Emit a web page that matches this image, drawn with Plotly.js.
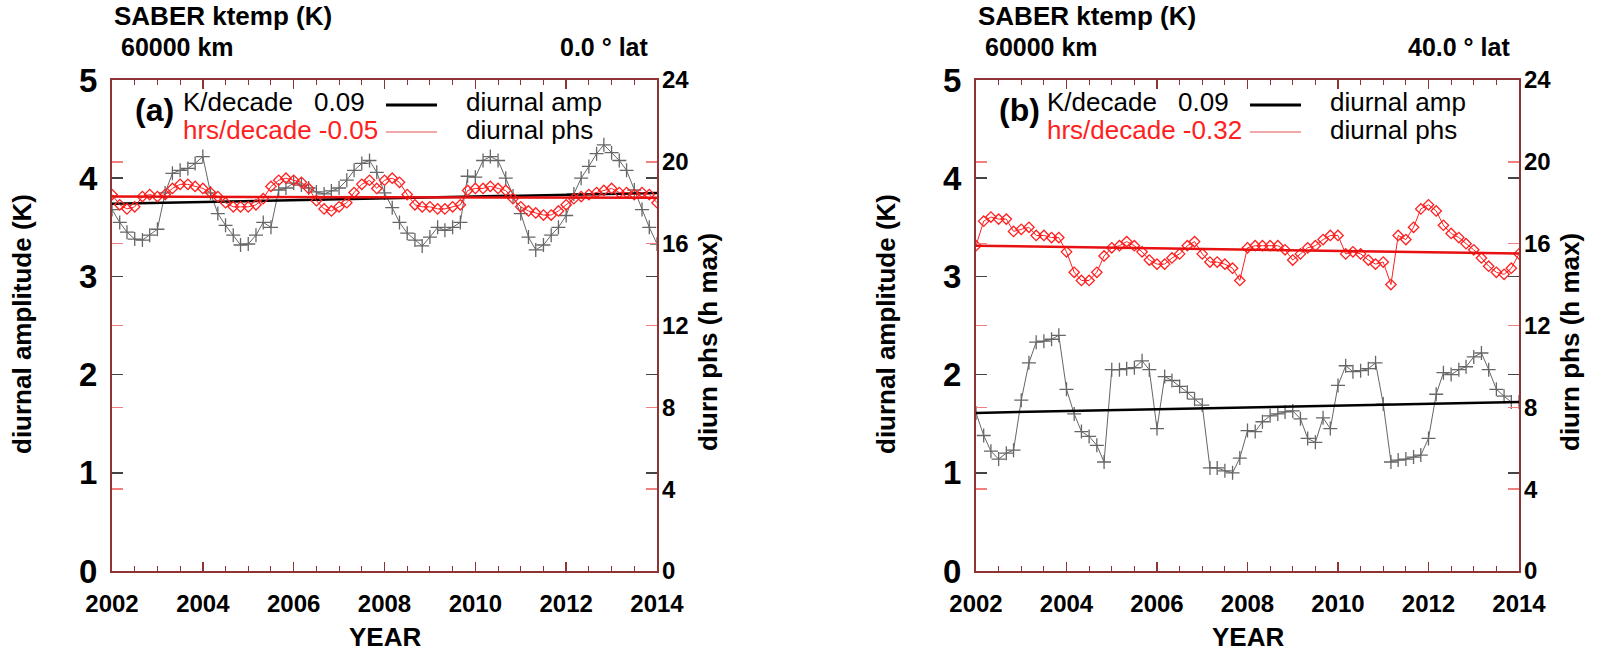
<!DOCTYPE html>
<html>
<head>
<meta charset="utf-8">
<script src="https://cdn.plot.ly/plotly-3.0.1.min.js"></script>
<style>
  body { margin: 0; background: #fff; }
  #chart { width: 1604px; height: 659px; }
</style>
</head>
<body>
<div id="chart"></div>
<script>
// time axis, roughly every two months
let years = [
  2002.00, 2002.17, 2002.33, 2002.50, 2002.67, 2002.83,
  2003.00, 2003.17, 2003.33, 2003.50, 2003.67, 2003.83,
  2004.00, 2004.17, 2004.33, 2004.50, 2004.67, 2004.83,
  2005.00, 2005.17, 2005.33, 2005.50, 2005.67, 2005.83,
  2006.00, 2006.17, 2006.33, 2006.50, 2006.67, 2006.83,
  2007.00, 2007.17, 2007.33, 2007.50, 2007.67, 2007.83,
  2008.00, 2008.17, 2008.33, 2008.50, 2008.67, 2008.83,
  2009.00, 2009.17, 2009.33, 2009.50, 2009.67, 2009.83,
  2010.00, 2010.17, 2010.33, 2010.50, 2010.67, 2010.83,
  2011.00, 2011.17, 2011.33, 2011.50, 2011.67, 2011.83,
  2012.00, 2012.17, 2012.33, 2012.50, 2012.67, 2012.83,
  2013.00, 2013.17, 2013.33, 2013.50, 2013.67, 2013.83,
  2014.00
];

// (a) 0.0 lat
let ampA = [
  3.68, 3.55, 3.45, 3.38, 3.37, 3.42,
  3.48, 3.85, 4.05, 4.08, 4.10, 4.15,
  4.22, 3.85, 3.64, 3.52, 3.42, 3.32,
  3.33, 3.42, 3.55, 3.50, 3.88, 3.90,
  3.95, 3.93, 3.90, 3.86, 3.84, 3.87,
  3.90, 3.98, 4.08, 4.15, 4.18, 4.06,
  3.85, 3.70, 3.55, 3.44, 3.37, 3.31,
  3.40, 3.50, 3.47, 3.50, 3.55, 4.02,
  4.01, 4.18, 4.22, 4.18, 4.00, 3.82,
  3.64, 3.40, 3.27, 3.32, 3.42, 3.50,
  3.62, 3.84, 4.00, 4.12, 4.25, 4.34,
  4.26, 4.18, 4.08, 3.88, 3.68, 3.50,
  3.33
];
let phsA = [
  18.4, 17.9, 17.7, 17.8, 18.3, 18.4,
  18.3, 18.4, 18.7, 18.9, 18.9, 18.8,
  18.7, 18.5, 18.3, 18.0, 17.8, 17.8,
  17.8, 17.9, 18.2, 18.8, 19.1, 19.2,
  19.1, 19.0, 18.7, 18.1, 17.7, 17.6,
  17.8, 18.0, 18.5, 18.9, 19.1, 18.7,
  19.1, 19.2, 19.0, 18.4, 17.9, 17.8,
  17.8, 17.7, 17.7, 17.8, 17.9, 18.6,
  18.7, 18.7, 18.8, 18.7, 18.6, 18.2,
  17.8, 17.6, 17.5, 17.4, 17.4, 17.6,
  17.9, 18.2, 18.3, 18.4, 18.5, 18.6,
  18.7, 18.5, 18.5, 18.4, 18.5, 18.4,
  18.0
];

// (b) 40.0 lat
let ampB = [
  1.61, 1.38, 1.22, 1.14, 1.20, 1.23,
  1.74, 2.12, 2.33, 2.34, 2.36, 2.40,
  1.85, 1.60, 1.42, 1.37, 1.28, 1.11,
  2.05, 2.05, 2.06, 2.07, 2.14, 2.05,
  1.45, 1.98, 1.94, 1.88, 1.82, 1.75,
  1.69, 1.05, 1.05, 1.02, 1.00, 1.15,
  1.43, 1.42, 1.52, 1.58, 1.60, 1.62,
  1.63, 1.55, 1.35, 1.31, 1.56, 1.45,
  1.89, 2.09, 2.03, 2.04, 2.06, 2.12,
  1.70, 1.11, 1.13, 1.14, 1.16, 1.18,
  1.35, 1.80, 2.02, 2.00, 2.05, 2.08,
  2.18, 2.22, 2.05, 1.85, 1.78, 1.72,
  1.72
];
let phsB = [
  15.9, 17.1, 17.3, 17.2, 17.2, 16.6,
  16.7, 16.8, 16.4, 16.4, 16.3, 16.3,
  15.6, 14.6, 14.2, 14.2, 14.6, 15.4,
  15.8, 15.9, 16.1, 15.9, 15.6, 15.2,
  15.0, 15.0, 15.3, 15.5, 15.9, 16.1,
  15.5, 15.1, 15.1, 15.0, 14.8, 14.2,
  15.8, 15.9, 15.9, 15.9, 15.9, 15.7,
  15.2, 15.5, 15.8, 15.9, 16.2, 16.4,
  16.4, 15.5, 15.6, 15.5, 15.2, 15.0,
  15.1, 14.0, 16.4, 16.2, 16.8, 17.7,
  17.9, 17.6, 16.9, 16.5, 16.3, 16.0,
  15.7, 15.3, 14.9, 14.6, 14.5, 14.8,
  15.5
];

// linear trend end points
let trendYears = [2002, 2014];
let ampTrendA = [3.74, 3.85];
let phsTrendA = [18.30, 18.24];
let ampTrendB = [1.61, 1.72];
let phsTrendB = [15.90, 15.52];

let xTicks = [2002, 2004, 2006, 2008, 2010, 2012, 2014];
let ampTicks = [0, 1, 2, 3, 4, 5];
let phsTicks = [0, 4, 8, 12, 16, 20, 24];

// page geometry (pixels)
const W = 1604, H = 659, ML = 112, MR = 85, MT = 80, MB = 88;
const PW = W - ML - MR, PH = H - MT - MB;
const px = x => (x - ML) / PW;
const py = y => (H - MB - y) / PH;

const FONT = "Liberation Sans, Arial, Helvetica, sans-serif";
const frameColor = "#8e3434";
const red = "#ff2020";

let panels = [
  { xa: "x", ya: "y", yh: "y2", left: 112, right: 657, tag: "(a)", lat: "0.0 ° lat",
    kRate: "0.09", hRate: "-0.05", amp: ampA, phs: phsA, ampTrend: ampTrendA, phsTrend: phsTrendA },
  { xa: "x2", ya: "y3", yh: "y4", left: 976, right: 1519, tag: "(b)", lat: "40.0 ° lat",
    kRate: "0.09", hRate: "-0.32", amp: ampB, phs: phsB, ampTrend: ampTrendB, phsTrend: phsTrendB }
];

let traces = [];
let annotations = [];
let shapes = [];

function txt(text, x, y, size, opts) {
  annotations.push(Object.assign({
    text: text, xref: "paper", yref: "paper", x: px(x), y: py(y),
    xanchor: "left", yanchor: "middle", showarrow: false, borderpad: 0,
    font: { family: FONT, size: size, color: "black" }
  }, opts || {}));
}
function bold(size, color) {
  return { family: FONT, size: size, color: color || "black", weight: "bold" };
}

panels.forEach(p => {
  // data series
  traces.push({
    x: years, y: p.amp, xaxis: p.xa, yaxis: p.ya, type: "scatter", mode: "lines+markers",
    line: { color: "#666", width: 1 },
    marker: { symbol: "cross-thin-open", size: 10, line: { color: "#1a1a1a", width: 1.3 } },
    hoverinfo: "skip"
  });
  traces.push({
    x: years, y: p.phs, xaxis: p.xa, yaxis: p.yh, type: "scatter", mode: "lines+markers",
    line: { color: red, width: 1 },
    marker: { symbol: "diamond-open", size: 8, line: { color: red, width: 1.3 } },
    hoverinfo: "skip"
  });
  // trend lines
  traces.push({
    x: trendYears, y: p.phsTrend, xaxis: p.xa, yaxis: p.yh, type: "scatter", mode: "lines",
    line: { color: "#e81010", width: 2.5 }, hoverinfo: "skip"
  });
  traces.push({
    x: trendYears, y: p.ampTrend, xaxis: p.xa, yaxis: p.ya, type: "scatter", mode: "lines",
    line: { color: "black", width: 2.5 }, hoverinfo: "skip"
  });

  let L = p.left, R = p.right;
  // header
  txt("SABER ktemp (K)", L + 1, 16, 26, { font: bold(26) });
  txt("60000 km", L + 8, 47, 25, { font: bold(25) });
  txt(p.lat, R - 8, 47, 25, { xanchor: "right", font: bold(25) });

  // in-plot key
  txt(p.tag, L + 22, 110, 32, { font: bold(32) });
  txt("K/decade", L + 70, 102, 26);
  txt(p.kRate, L + 201, 102, 26);
  txt("diurnal amp", L + 353, 102, 26);
  txt("hrs/decade " + p.hRate, L + 70, 130, 26, { font: { family: FONT, size: 26, color: red } });
  txt("diurnal phs", L + 353, 130, 26);
  shapes.push({ type: "line", xref: "paper", yref: "paper", x0: px(L + 274), x1: px(L + 325),
    y0: py(105), y1: py(105), line: { color: "black", width: 3 } });
  shapes.push({ type: "line", xref: "paper", yref: "paper", x0: px(L + 274), x1: px(L + 325),
    y0: py(132), y1: py(132), line: { color: "#e05050", width: 1 } });

  // axis titles
  txt("diurnal amplitude (K)", L - 90, 324, 26, { xanchor: "center", textangle: -90, font: bold(26) });
  txt("diurn phs (h max)", R + 51, 342, 26, { xanchor: "center", textangle: -90, font: bold(26) });
  txt("YEAR", (L + R) / 2, 637, 26, { xanchor: "center", font: bold(26) });
});

function xAxis(domain, anchor) {
  return {
    domain: domain, anchor: anchor, range: [2002, 2014], tickvals: xTicks,
    ticks: "inside", ticklen: 9, tickwidth: 1.5, tickcolor: frameColor,
    minor: { dtick: 0.5, ticks: "inside", ticklen: 5, tickcolor: frameColor, tickwidth: 1 },
    showline: true, linecolor: frameColor, linewidth: 2, mirror: "ticks",
    showgrid: false, zeroline: false, ticklabelstandoff: 10,
    tickfont: bold(24)
  };
}
function ampAxis(anchor) {
  return {
    anchor: anchor, range: [0, 5], tickvals: ampTicks,
    ticks: "inside", ticklen: 11, tickwidth: 1.5, tickcolor: "#444",
    showline: true, linecolor: frameColor, linewidth: 2, mirror: "ticks",
    showgrid: false, zeroline: false, ticklabelstandoff: 6,
    tickfont: bold(33)
  };
}
function phsAxis(anchor, over) {
  return {
    anchor: anchor, overlaying: over, side: "right", range: [0, 24], tickvals: phsTicks,
    ticks: "inside", ticklen: 11, tickwidth: 1.5, tickcolor: "#f08080",
    showline: false, mirror: "ticks",
    showgrid: false, zeroline: false, ticklabelstandoff: 4,
    tickfont: bold(24)
  };
}

let layout = {
  width: W, height: H,
  margin: { l: ML, r: MR, t: MT, b: MB },
  paper_bgcolor: "white", plot_bgcolor: "white",
  showlegend: false,
  xaxis: xAxis([0, 545 / PW], "y"),
  yaxis: ampAxis("x"),
  yaxis2: phsAxis("x", "y"),
  xaxis2: xAxis([864 / PW, 1], "y3"),
  yaxis3: ampAxis("x2"),
  yaxis4: phsAxis("x2", "y3"),
  annotations: annotations,
  shapes: shapes
};

Plotly.newPlot("chart", traces, layout, { displayModeBar: false, staticPlot: true });
</script>
</body>
</html>
